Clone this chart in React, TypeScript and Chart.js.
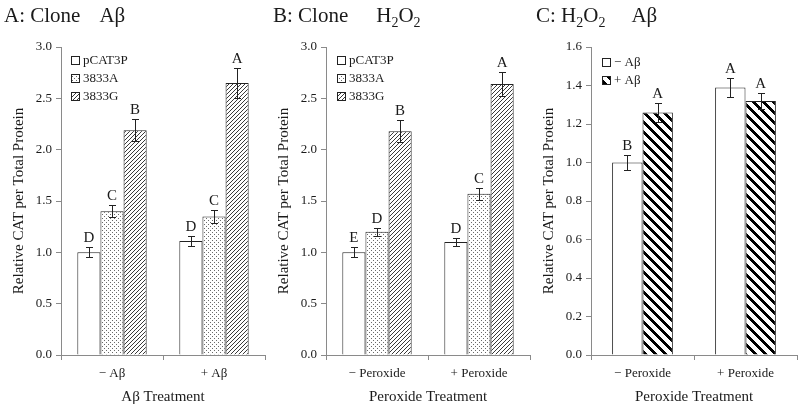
import React, { useEffect, useRef } from 'react';
import { Chart, registerables } from 'chart.js';
Chart.register(...registerables);

const FONT = '"Liberation Serif", "Times New Roman", serif';
const TEXT = '#1a1a1a';
const AXIS = '#8a8a8a';

// Panel A: Clone x Aβ
const catsAb = ['− Aβ', '+ Aβ'];
const cloneNames = ['pCAT3P', '3833A', '3833G'];
const aPCAT3P = [1.0, 1.11];
const a3833A = [1.4, 1.35];
const a3833G = [2.19, 2.65];
const aPCAT3PErr = [0.05, 0.05];
const a3833AErr = [0.06, 0.06];
const a3833GErr = [0.11, 0.15];
const aPCAT3PLet = ['D', 'D'];
const a3833ALet = ['C', 'C'];
const a3833GLet = ['B', 'A'];

// Panel B: Clone x H2O2
const catsPeroxide = ['− Peroxide', '+ Peroxide'];
const bPCAT3P = [1.0, 1.1];
const b3833A = [1.2, 1.57];
const b3833G = [2.18, 2.64];
const bPCAT3PErr = [0.05, 0.04];
const b3833AErr = [0.04, 0.06];
const b3833GErr = [0.11, 0.12];
const bPCAT3PLet = ['E', 'D'];
const b3833ALet = ['D', 'C'];
const b3833GLet = ['B', 'A'];

// Panel C: H2O2 x Aβ
const abNames = ['− Aβ', '+ Aβ'];
const cMinusAb = [1.0, 1.39];
const cPlusAb = [1.26, 1.32];
const cMinusAbErr = [0.04, 0.05];
const cPlusAbErr = [0.05, 0.04];
const cMinusAbLet = ['B', 'A'];
const cPlusAbLet = ['A', 'A'];

const yTicks12 = [0, 0.5, 1.0, 1.5, 2.0, 2.5, 3.0];
const yTicksC = [0, 0.2, 0.4, 0.6, 0.8, 1.0, 1.2, 1.4, 1.6];

function makeTile(size: number, fn: (x: number, y: number) => string | null) {
  const c = document.createElement('canvas');
  c.width = size;
  c.height = size;
  const ctx = c.getContext('2d')!;
  ctx.fillStyle = '#ffffff';
  ctx.fillRect(0, 0, size, size);
  for (let y = 0; y < size; y++) {
    for (let x = 0; x < size; x++) {
      const col = fn(x, y);
      if (col) {
        ctx.fillStyle = col;
        ctx.fillRect(x, y, 1, 1);
      }
    }
  }
  return ctx.createPattern(c, 'repeat')!;
}

function patterns() {
  const dots = makeTile(4, (x, y) => ((x === 0 && y === 0) || (x === 2 && y === 2) ? '#6a6a6a' : null));
  const hatch = makeTile(4, (x, y) => ((x + y) % 4 === 0 ? '#3a3a3a' : null));
  const stripes = makeTile(10, (x, y) => (((x - y) % 10 + 10) % 10 < 4 ? '#000000' : null));
  return { dots, hatch, stripes };
}

const errPlugin = {
  id: 'errLetters',
  afterDatasetsDraw(chart: any) {
    const ctx = chart.ctx;
    const ys = chart.scales.y;
    ctx.save();
    chart.data.datasets.forEach((ds: any, i: number) => {
      const meta = chart.getDatasetMeta(i);
      meta.data.forEach((el: any, j: number) => {
        const v = ds.data[j];
        const e = ds.errors[j];
        const yt = ys.getPixelForValue(v + e);
        const yb = ys.getPixelForValue(v - e);
        const x = Math.round(el.x) + 0.5;
        ctx.strokeStyle = '#222';
        ctx.lineWidth = 1;
        ctx.beginPath();
        ctx.moveTo(x, Math.round(yt) + 0.5);
        ctx.lineTo(x, Math.round(yb) + 0.5);
        ctx.moveTo(x - 3.5, Math.round(yt) + 0.5);
        ctx.lineTo(x + 3.5, Math.round(yt) + 0.5);
        ctx.moveTo(x - 3.5, Math.round(yb) + 0.5);
        ctx.lineTo(x + 3.5, Math.round(yb) + 0.5);
        ctx.stroke();
        ctx.fillStyle = TEXT;
        ctx.font = `15px ${FONT}`;
        ctx.textAlign = 'center';
        ctx.textBaseline = 'alphabetic';
        ctx.fillText(ds.letters[j], el.x, yt - 5);
      });
    });
    ctx.restore();
  },
};

const legendPlugin = {
  id: 'boxLegend',
  afterDraw(chart: any) {
    const opts = chart.options.plugins.boxLegend;
    if (!opts) return;
    const ctx = chart.ctx;
    const left = chart.chartArea.left + opts.dx;
    ctx.save();
    chart.data.datasets.forEach((ds: any, i: number) => {
      const cy = opts.y0 + i * opts.step;
      ctx.fillStyle = ds.backgroundColor;
      ctx.fillRect(left, cy - 4, 8, 8);
      ctx.strokeStyle = '#222';
      ctx.lineWidth = 1;
      ctx.strokeRect(left + 0.5, cy - 3.5, 8, 8);
      ctx.fillStyle = TEXT;
      ctx.font = `13px ${FONT}`;
      ctx.textAlign = 'left';
      ctx.textBaseline = 'middle';
      ctx.fillText(ds.label, left + 12, cy + 1);
    });
    ctx.restore();
  },
};

type PanelProps = {
  left: number;
  width: number;
  build: () => any;
};

function Panel({ left, width, build }: PanelProps) {
  const ref = useRef<HTMLCanvasElement>(null);
  useEffect(() => {
    const chart = new Chart(ref.current!, build());
    return () => chart.destroy();
  }, []);
  return (
    <canvas
      ref={ref}
      width={width}
      height={411}
      style={{ position: 'absolute', left, top: 0, width, height: 411 }}
    />
  );
}

function baseOptions(xTitle: string, yMax: number, step: number, catPct: number, legend: any, yTicks: number[]) {
  return {
    animation: false,
    responsive: false,
    layout: { padding: { top: 47, right: 3, left: 0, bottom: 0 } },
    datasets: { bar: { barPercentage: 1, categoryPercentage: catPct } },
    plugins: { legend: { display: false }, tooltip: { enabled: false }, boxLegend: legend },
    scales: {
      x: {
        grid: { drawOnChartArea: false, tickLength: 5, color: AXIS, offset: true },
        border: { color: AXIS },
        ticks: { font: { family: FONT, size: 13 }, color: TEXT, padding: 6 },
        title: {
          display: true,
          text: xTitle,
          font: { family: FONT, size: 15 },
          color: TEXT,
          padding: { top: 0, bottom: 5 },
        },
        afterFit: (s: any) => {
          s.height = 56;
        },
      },
      y: {
        min: 0,
        max: yMax,
        afterBuildTicks: (s: any) => {
          s.ticks = yTicks.map((v) => ({ value: v }));
        },
        ticks: {
          stepSize: step,
          font: { family: FONT, size: 13 },
          color: TEXT,
          padding: 4,
          callback: (v: any) => Number(v).toFixed(1),
        },
        grid: { drawOnChartArea: false, tickLength: 5, color: AXIS },
        border: { color: AXIS },
        title: {
          display: true,
          text: 'Relative CAT per Total Protein',
          font: { family: FONT, size: 15 },
          color: TEXT,
          padding: { top: 10, bottom: 0 },
        },
        afterFit: (s: any) => {
          s.width = 61;
        },
      },
    },
  };
}

export default function App() {
  const buildA = () => {
    const p = patterns();
    return {
      type: 'bar',
      data: {
        labels: catsAb,
        datasets: [
          { label: cloneNames[0], data: aPCAT3P, errors: aPCAT3PErr, letters: aPCAT3PLet, backgroundColor: '#ffffff', borderColor: '#222', borderWidth: 1 },
          { label: cloneNames[1], data: a3833A, errors: a3833AErr, letters: a3833ALet, backgroundColor: p.dots, borderColor: '#222', borderWidth: 1 },
          { label: cloneNames[2], data: a3833G, errors: a3833GErr, letters: a3833GLet, backgroundColor: p.hatch, borderColor: '#222', borderWidth: 1 },
        ],
      },
      options: baseOptions('Aβ Treatment', 3, 0.5, 0.68, { dx: 10, y0: 60, step: 18 }, yTicks12),
      plugins: [errPlugin, legendPlugin],
    };
  };
  const buildB = () => {
    const p = patterns();
    return {
      type: 'bar',
      data: {
        labels: catsPeroxide,
        datasets: [
          { label: cloneNames[0], data: bPCAT3P, errors: bPCAT3PErr, letters: bPCAT3PLet, backgroundColor: '#ffffff', borderColor: '#222', borderWidth: 1 },
          { label: cloneNames[1], data: b3833A, errors: b3833AErr, letters: b3833ALet, backgroundColor: p.dots, borderColor: '#222', borderWidth: 1 },
          { label: cloneNames[2], data: b3833G, errors: b3833GErr, letters: b3833GLet, backgroundColor: p.hatch, borderColor: '#222', borderWidth: 1 },
        ],
      },
      options: baseOptions('Peroxide Treatment', 3, 0.5, 0.68, { dx: 11, y0: 60, step: 18 }, yTicks12),
      plugins: [errPlugin, legendPlugin],
    };
  };
  const buildC = () => {
    const p = patterns();
    return {
      type: 'bar',
      data: {
        labels: catsPeroxide,
        datasets: [
          { label: abNames[0], data: cMinusAb, errors: cMinusAbErr, letters: cMinusAbLet, backgroundColor: '#ffffff', borderColor: '#222', borderWidth: 1 },
          { label: abNames[1], data: cPlusAb, errors: cPlusAbErr, letters: cPlusAbLet, backgroundColor: p.stripes, borderColor: '#222', borderWidth: 1 },
        ],
      },
      options: baseOptions('Peroxide Treatment', 1.6, 0.2, 0.59, { dx: 11, y0: 62, step: 18 }, yTicksC),
      plugins: [errPlugin, legendPlugin],
    };
  };

  const titleStyle = (left: number): React.CSSProperties => ({
    position: 'absolute',
    left,
    top: 3,
    fontFamily: FONT,
    fontSize: 21,
    lineHeight: '24px',
    color: TEXT,
    whiteSpace: 'pre',
    margin: 0,
  });
  const subStyle: React.CSSProperties = { fontSize: 14, verticalAlign: -5, lineHeight: 0 };

  return (
    <div style={{ position: 'absolute', left: 0, top: 0, width: 800, height: 411, background: '#fff', overflow: 'hidden' }}>
      <Panel left={0} width={268} build={buildA} />
      <Panel left={265} width={268} build={buildB} />
      <Panel left={530} width={270} build={buildC} />
      <div style={titleStyle(4)}>
        A: Clone<span style={{ marginLeft: 19 }}>Aβ</span>
      </div>
      <div style={titleStyle(273)}>
        B: Clone<span style={{ marginLeft: 28 }}>H<sub style={subStyle}>2</sub>O<sub style={subStyle}>2</sub></span>
      </div>
      <div style={titleStyle(536)}>
        C: <span>H<sub style={subStyle}>2</sub>O<sub style={subStyle}>2</sub></span>
        <span style={{ marginLeft: 26 }}>Aβ</span>
      </div>
    </div>
  );
}
